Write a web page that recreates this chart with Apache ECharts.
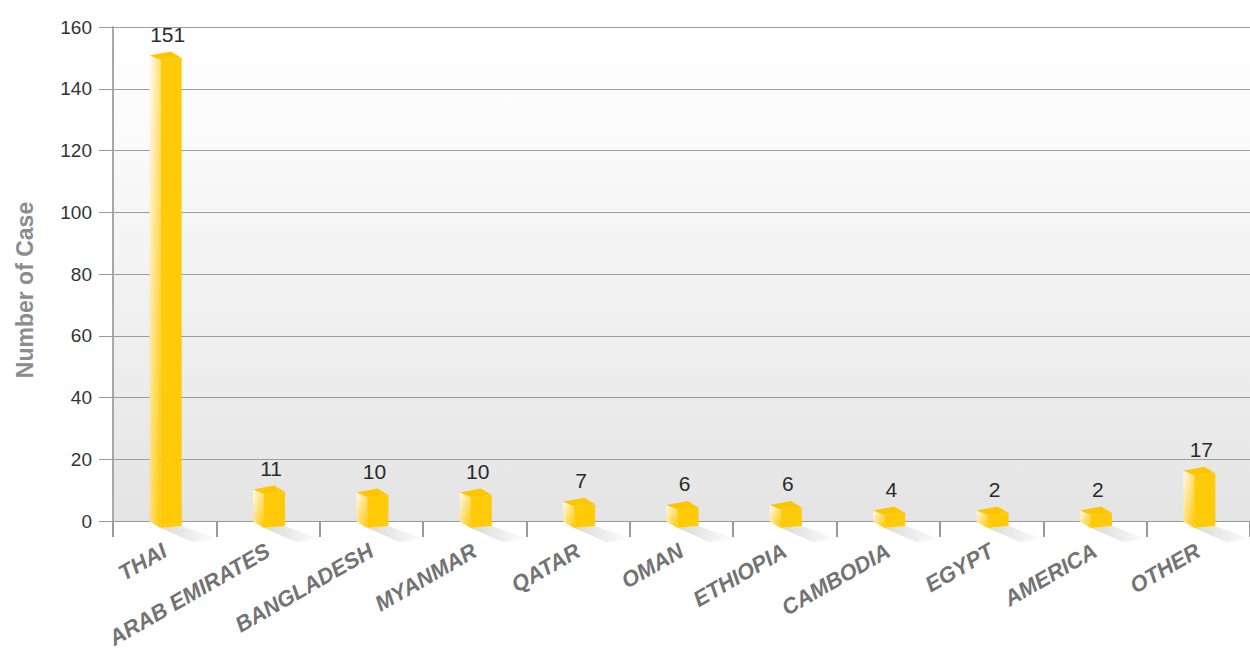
<!DOCTYPE html>
<html>
<head>
<meta charset="utf-8">
<script src="https://cdn.jsdelivr.net/npm/echarts@6/dist/echarts.min.js"></script>
<style>
  html, body { margin: 0; padding: 0; background: #fff; }
  #chart { width: 1250px; height: 652px; }
</style>
</head>
<body>
<div id="chart"></div>
<script>
// data
var countries = ['THAI', 'ARAB EMIRATES', 'BANGLADESH', 'MYANMAR', 'QATAR', 'OMAN',
                 'ETHIOPIA', 'CAMBODIA', 'EGYPT', 'AMERICA', 'OTHER'];
var cases = [151, 11, 10, 10, 7, 6, 6, 4, 2, 2, 17];
var yTicks = [0, 20, 40, 60, 80, 100, 120, 140, 160];

var FONT = "'Liberation Sans', Arial, Helvetica, sans-serif";

var chart = echarts.init(document.getElementById('chart'), null, { renderer: 'svg' });

// draw a small 3d box for each value
function renderBox(params, api) {
    var top = api.coord([api.value(0), api.value(1)]);
    var base = api.coord([api.value(0), 0]);
    var cx = top[0], y0 = base[1];
    // front face height, boxes never get flatter than 13px
    var h = Math.max(13, (y0 - top[1]) * 1.004);
    var ft = y0 + 7 - h;
    var xl = cx - 15, xf = cx - 4, xr = cx + 17, xb = cx + 6;

    var leftFace = [[xl, ft - 4.5], [xf, ft], [xf, y0 + 7], [xl, y0 + 0.5]];
    var frontFace = [[xf, ft], [xr, ft - 2], [xr, y0 + 5], [xf, y0 + 7]];
    var topFace = [[xl, ft - 4.5], [xb, ft - 8.5], [xr, ft - 2], [xf, ft]];
    var shadow = [[xf, y0 + 7], [xr, y0 + 5], [xr + 36, y0 + 18], [xf + 32, y0 + 21]];

    return {
        type: 'group',
        children: [
            {
                type: 'polygon',
                shape: { points: shadow },
                style: {
                    fill: new echarts.graphic.LinearGradient(0, 0, 1, 0, [
                        { offset: 0, color: 'rgba(0,0,0,0.15)' },
                        { offset: 1, color: 'rgba(0,0,0,0)' }
                    ])
                }
            },
            {
                type: 'polygon',
                shape: { points: leftFace },
                style: {
                    fill: new echarts.graphic.LinearGradient(0, 0, 1, 1, [
                        { offset: 0, color: '#fffaf0' },
                        { offset: 0.5, color: '#ffe07a' },
                        { offset: 1, color: '#ffc800' }
                    ])
                }
            },
            {
                type: 'polygon',
                shape: { points: frontFace },
                style: { fill: '#ffca08' }
            },
            {
                type: 'polygon',
                shape: { points: topFace },
                style: { fill: '#ffc600' }
            },
            {
                type: 'text',
                x: cx + 3,
                y: ft - 15,
                style: {
                    text: String(api.value(1)),
                    align: 'center',
                    verticalAlign: 'bottom',
                    fill: '#2a2a2a',
                    font: '21px ' + FONT
                }
            }
        ]
    };
}

var option = {
    backgroundColor: '#fff',
    animation: false,
    grid: {
        left: 113,
        right: 0,
        top: 27,
        bottom: 131,
        outerBoundsMode: 'none',
        containLabel: false,
        show: true,
        borderWidth: 0,
        backgroundColor: new echarts.graphic.LinearGradient(0, 0, 0, 1, [
            { offset: 0, color: '#ffffff' },
            { offset: 0.2, color: '#fbfbfb' },
            { offset: 1, color: '#e4e4e4' }
        ])
    },
    graphic: [{
        type: 'text',
        x: 25,
        y: 290,
        rotation: Math.PI / 2,
        style: {
            text: 'Number of Case',
            align: 'center',
            verticalAlign: 'middle',
            fill: '#8c8c8c',
            font: 'bold 23px ' + FONT
        }
    }],
    xAxis: {
        type: 'category',
        data: countries,
        axisLine: { lineStyle: { color: '#9a9a9a', width: 1 } },
        axisTick: { show: true, length: 16, lineStyle: { color: '#9a9a9a', width: 2 } },
        axisLabel: {
            rotate: 30,
            interval: 0,
            margin: 28,
            color: '#737373',
            fontSize: 22,
            fontWeight: 'bold',
            fontStyle: 'italic',
            fontFamily: FONT
        }
    },
    yAxis: {
        type: 'value',
        min: yTicks[0],
        max: yTicks[yTicks.length - 1],
        interval: 20,
        axisLine: { show: true, lineStyle: { color: '#a8a8a8', width: 2 } },
        axisTick: { show: true, length: 14, lineStyle: { color: '#9a9a9a' } },
        axisLabel: {
            margin: 21,
            color: '#333',
            fontSize: 19,
            fontFamily: FONT
        },
        splitLine: { lineStyle: { color: '#9d9d9d', width: 1 } }
    },
    series: [{
        type: 'custom',
        renderItem: renderBox,
        encode: { x: 0, y: 1 },
        data: cases.map(function (v, i) { return [i, v]; }),
        z: 5
    }]
};

chart.setOption(option);
</script>
</body>
</html>
